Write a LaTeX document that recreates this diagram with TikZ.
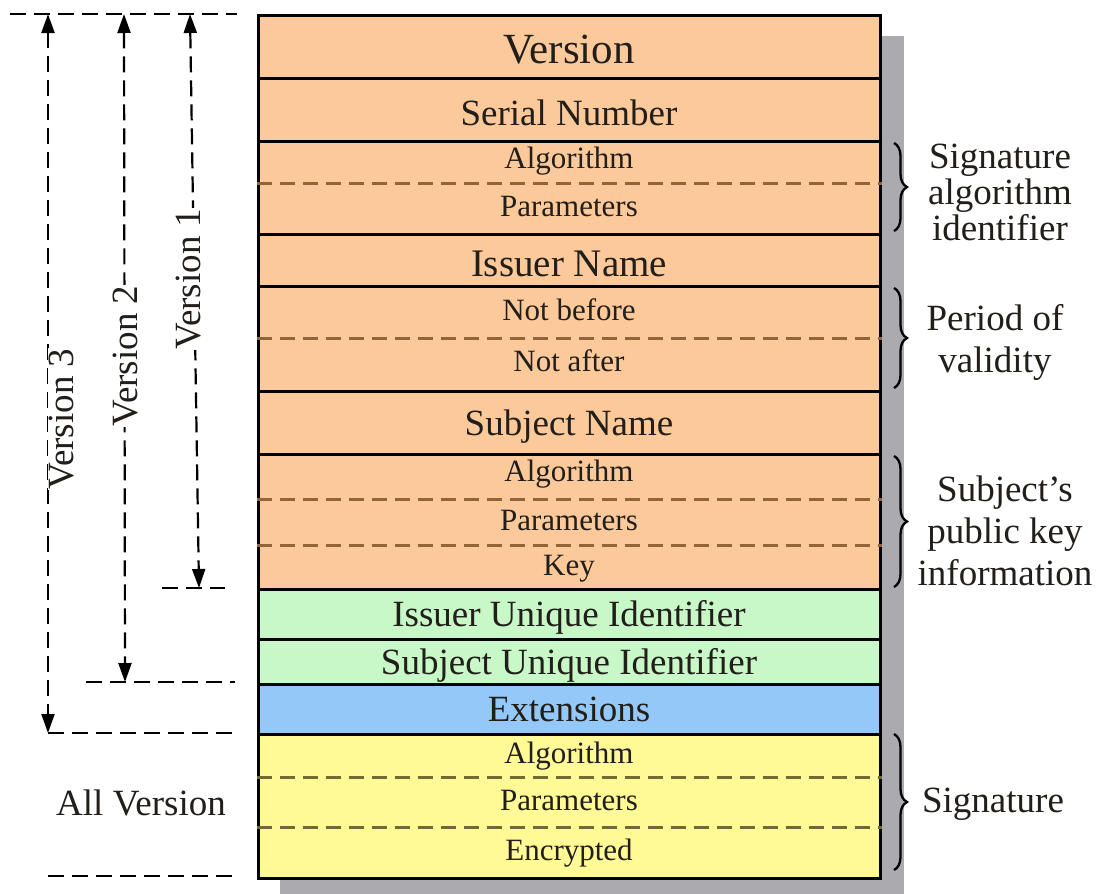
\documentclass[tikz,border=0pt]{standalone}
\usepackage{fontspec}
\setmainfont{Liberation Serif}
\usetikzlibrary{arrows.meta,decorations.pathreplacing}

\definecolor{certorange}{RGB}{252,201,154}
\definecolor{certgreen}{RGB}{200,248,200}
\definecolor{certblue}{RGB}{148,200,248}
\definecolor{certyellow}{RGB}{255,250,150}
\definecolor{shadowgray}{RGB}{170,170,175}
\definecolor{sepbrown}{RGB}{145,100,58}
\definecolor{sepolive}{RGB}{115,105,50}
\definecolor{ink}{RGB}{34,30,26}

\begin{document}
\begin{tikzpicture}[x=1pt,y=-1pt,
  field/.style={draw=black, line width=3pt, minimum width=622pt, inner sep=0pt,
                anchor=north, text=ink},
  bigtxt/.style={font=\fontsize{37}{40}\selectfont, text height=24.5pt, text depth=0pt},
  smalltxt/.style={font=\fontsize{31}{34}\selectfont, text=ink, inner sep=0pt,
                   text height=21pt, text depth=7pt},
  sep/.style={line width=3pt, dash pattern=on 15pt off 8pt},
  guide/.style={line width=2.2pt, dash pattern=on 16pt off 8pt},
  span/.style={guide, {Triangle[length=19pt,width=13pt]}-{Triangle[length=19pt,width=13pt]}},
  vlabel/.style={font=\fontsize{37}{40}\selectfont, text=ink, fill=white, rotate=90,
                 inner sep=1pt, text height=24pt, text depth=8pt},
  bracket/.style={decorate, decoration={brace, amplitude=13pt}, line width=2.3pt},
  side/.style={font=\fontsize{37}{42}\selectfont, text=ink, align=center},
]
\useasboundingbox (0,0) rectangle (1098,894);

% drop shadow behind the certificate
\fill[shadowgray] (280,36) rectangle (904,894);

% certificate fields (a taller text height pushes the caption down a little)
\node[field, fill=certorange, minimum height=63pt, bigtxt, font=\fontsize{43}{46}\selectfont,
      text height=32.5pt] (version) at (569,14) {Version};
\node[field, fill=certorange, minimum height=63pt, bigtxt, text height=30.5pt] (serial) at (569,77) {Serial Number};
\node[field, fill=certorange, minimum height=93pt] (sigalg) at (569,140) {};
\node[field, fill=certorange, minimum height=52pt, bigtxt, font=\fontsize{39}{42}\selectfont,
      text height=32pt] (issuer) at (569,233) {Issuer Name};
\node[field, fill=certorange, minimum height=105pt] (validity) at (569,285) {};
\node[field, fill=certorange, minimum height=63pt, bigtxt] (subject) at (569,390) {Subject Name};
\node[field, fill=certorange, minimum height=135pt] (pubkey) at (569,453) {};
\node[field, fill=certgreen, minimum height=50pt, bigtxt] (iuid) at (569,588) {Issuer Unique Identifier};
\node[field, fill=certgreen, minimum height=45pt, bigtxt] (suid) at (569,638) {Subject Unique Identifier};
\node[field, fill=certblue, minimum height=50pt, bigtxt] (ext) at (569,683) {Extensions};
\node[field, fill=certyellow, minimum height=144pt] (sig) at (569,733) {};

% dashed sub-field separators
\draw[sep, sepbrown] (sigalg.west |- 0,183) -- (sigalg.east |- 0,183);
\draw[sep, sepbrown] (validity.west |- 0,338) -- (validity.east |- 0,338);
\draw[sep, sepbrown] (pubkey.west |- 0,499) -- (pubkey.east |- 0,499);
\draw[sep, sepbrown] (pubkey.west |- 0,545) -- (pubkey.east |- 0,545);
\draw[sep, sepolive] (sig.west |- 0,777) -- (sig.east |- 0,777);
\draw[sep, sepolive] (sig.west |- 0,827) -- (sig.east |- 0,827);

% sub-field labels
\node[smalltxt] (sa1) at (569,161) {Algorithm};
\node[smalltxt] (sa2) at (569,209) {Parameters};
\node[smalltxt] (pv1) at (569,313) {Not before};
\node[smalltxt] (pv2) at (569,364) {Not after};
\node[smalltxt] (pk1) at (569,474) {Algorithm};
\node[smalltxt] (pk2) at (569,523) {Parameters};
\node[smalltxt] (pk3) at (569,568) {Key};
\node[smalltxt] (sg1) at (569,756) {Algorithm};
\node[smalltxt] (sg2) at (569,803) {Parameters};
\node[smalltxt] (sg3) at (569,853) {Encrypted};

% version extents on the left
\coordinate (v1top) at (190,14);  \coordinate (v1bot) at (199,588);
\coordinate (v2top) at (124,14);  \coordinate (v2bot) at (125,682);
\coordinate (v3top) at (48,14);   \coordinate (v3bot) at (48,733);

\draw[guide] (10,14) -- (237,14);
\draw[span] (v1top) -- (v1bot);
\draw[span] (v2top) -- (v2bot);
\draw[span] (v3top) -- (v3bot);
\draw[guide] (162,588) -- (225,588);
\draw[guide] (86,682) -- (235,682);
\draw[guide] (v3bot) -- (235,733);
\draw[guide] (48,876) -- (233,876);

\node[vlabel] (v1) at (192,279) {Version 1};
\node[vlabel] (v2) at (129,356) {Version 2};
\node[vlabel] (v3) at (65,419) {Version 3};
\node[font=\fontsize{37}{40}\selectfont, text=ink] (allv) at (141,803) {All Version};

% groupings on the right
\draw[bracket] (894,143) -- (894,231);
\draw[bracket] (894,288) -- (894,388);
\draw[bracket] (894,456) -- (894,587);
\draw[bracket] (894,734) -- (894,870);

\node[side, font=\fontsize{37}{36}\selectfont] (lsigalg) at (1000,192) {Signature\\algorithm\\identifier};
\node[side] (lvalid) at (995,342) {Period of\\validity};
\node[side] (lpub) at (1005,531) {Subject's\\public key\\information};
\node[side] (lsig) at (993,804) {Signature};
\end{tikzpicture}
\end{document}
